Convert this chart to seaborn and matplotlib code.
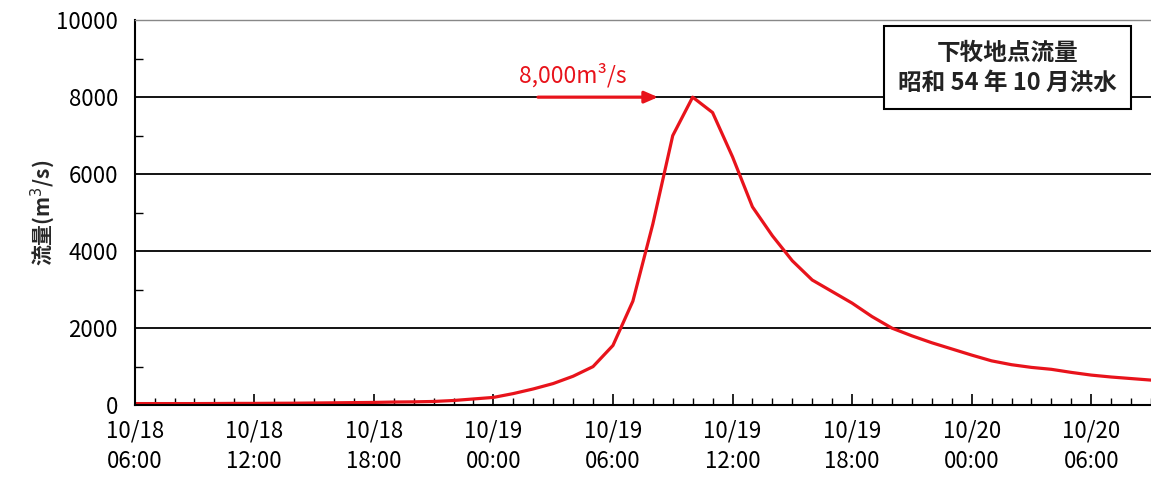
import matplotlib
matplotlib.use("Agg")
import matplotlib.pyplot as plt
import matplotlib.dates as mdates
import numpy as np
import pandas as pd
import seaborn as sns

# hourly discharge at 下牧, from 1979-10-18 06:00
start_time = "1979-10-18 06:00"
flow_m3s = [
    40, 40, 40, 40, 42, 45, 45, 48, 50, 55, 60, 65, 70,
    80, 85, 95, 120, 160, 200, 300, 420, 560, 750, 1000,
    1550, 2700, 4700, 7000, 8000, 7600, 6450, 5150, 4400, 3750,
    3250, 2950, 2650, 2300, 2000, 1800, 1620, 1460, 1300, 1150,
    1050, 980, 930, 850, 780, 730, 690, 650,
]
peak_label = "8,000m³/s"
box_lines = ["下牧地点流量", "昭和 54 年 10 月洪水"]
ylabel = "流量(m$^3$/s)"

df = pd.DataFrame({
    "time": pd.date_range(start_time, periods=len(flow_m3s), freq="h"),
    "flow": flow_m3s,
})

sns.set_style("white")
plt.rcParams["font.family"] = ["Noto Sans CJK JP", "DejaVu Sans"]

fig = plt.figure(figsize=(11.51, 4.8), dpi=100)
ax = fig.add_axes([0.117, 0.156, 0.883, 0.802])

sns.lineplot(data=df, x="time", y="flow", color="#e8131b", linewidth=2.3, ax=ax)

ax.set_xlim(df["time"].iloc[0], df["time"].iloc[-1])
ax.set_ylim(0, 10000)
ax.set_yticks(np.arange(0, 10001, 2000))
ax.set_yticks(np.arange(0, 10001, 1000), minor=True)
ax.yaxis.grid(True, which="major", color="black", linewidth=1.3)
ax.xaxis.grid(False)

ax.xaxis.set_major_locator(mdates.HourLocator(byhour=[0, 6, 12, 18]))
ax.xaxis.set_minor_locator(mdates.HourLocator())
ax.xaxis.set_major_formatter(mdates.DateFormatter("%m/%d\n%H:%M"))

ax.tick_params(axis="both", which="both", direction="in", colors="black",
               labelsize=16, bottom=True, left=True)
ax.tick_params(axis="x", which="major", length=8, width=1.2, pad=10)
ax.tick_params(axis="x", which="minor", length=5, width=1.0)
ax.tick_params(axis="y", which="major", length=0, pad=12)
ax.tick_params(axis="y", which="minor", length=6, width=1.0)
for lab in ax.get_xticklabels():
    lab.set_linespacing(1.45)

for side in ["left", "bottom"]:
    ax.spines[side].set_color("black")
    ax.spines[side].set_linewidth(1.5)
ax.spines["top"].set_color("#888888")
ax.spines["top"].set_linewidth(1.0)
ax.spines["right"].set_visible(False)

ax.set_xlabel("")
ax.set_ylabel(ylabel, fontsize=15, fontweight="bold")
ax.yaxis.set_label_coords(-0.076, 0.5)

# peak annotation
peak_time = df.loc[df["flow"].idxmax(), "time"]
peak_val = df["flow"].max()
ax.annotate("", xy=(peak_time - pd.Timedelta(hours=1.6), peak_val),
            xytext=(peak_time - pd.Timedelta(hours=7.9), peak_val),
            arrowprops=dict(arrowstyle="-|>,head_length=0.8,head_width=0.35",
                            color="#e8131b", lw=2.3))
ax.text(peak_time - pd.Timedelta(hours=6.0), peak_val + 250, peak_label,
        color="#e8131b", fontsize=16.5, ha="center", va="bottom")

ax.text(0.859, 0.877, "\n".join(box_lines), transform=ax.transAxes,
        ha="center", va="center", fontsize=17, color="#222222",
        fontweight="bold", linespacing=1.3,
        bbox=dict(boxstyle="square,pad=0.6", facecolor="white",
                  edgecolor="black", linewidth=1.5))

fig.savefig("out.png", dpi=100)
